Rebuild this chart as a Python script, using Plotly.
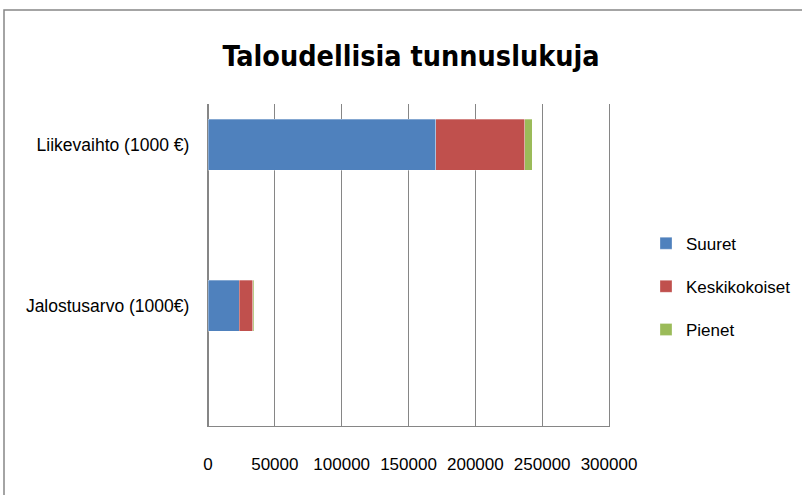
import plotly.graph_objects as go

categories = ["Jalostusarvo (1000€)", "Liikevaihto (1000 €)"]
series_names = ["Suuret", "Keskikokoiset", "Pienet"]
suuret = [23400, 170500]
keskikokoiset = [10000, 66500]
pienet = [1000, 5700]
colors = ["#4F81BD", "#C0504D", "#9BBB59"]
x_ticks = [0, 50000, 100000, 150000, 200000, 250000, 300000]

W, H = 802, 495
L, R, T, B = 208, 609, 104, 426

fig = go.Figure()
for i, (name, vals) in enumerate(zip(series_names, [suuret, keskikokoiset, pienet])):
    fig.add_trace(go.Bar(
        y=categories, x=vals, name=name, orientation="h",
        marker=dict(color=colors[i], line=dict(color="rgba(255,255,255,0.5)", width=0.6)),
        width=0.317, legendgroup=name,
    ))

font_family = "Liberation Sans, Arial, sans-serif"
title_family = "DejaVu Sans Condensed, Liberation Sans Narrow, Liberation Sans, sans-serif"
grid_c = "#868686"

fig.update_layout(
    width=W, height=H,
    margin=dict(l=L, r=W - R, t=T, b=H - B, pad=0, autoexpand=False),
    barmode="stack",
    paper_bgcolor="white", plot_bgcolor="white",
    font=dict(family=font_family, size=17, color="#000000"),
    title=dict(text="<b>Taloudellisia tunnuslukuja</b>", x=(411 - L) / (R - L), xref="paper",
               xanchor="center", y=1 - 56 / H, yref="container", yanchor="middle",
               font=dict(family=title_family, size=28.5, color="#000000")),
    xaxis=dict(range=[0, 300000], tickvals=x_ticks, ticktext=[str(v) for v in x_ticks],
               showgrid=True, gridcolor=grid_c, gridwidth=1.4,
               zeroline=True, zerolinecolor=grid_c, zerolinewidth=1.4,
               showline=True, linecolor=grid_c, linewidth=1.4,
               ticks="", ticklabelstandoff=22, tickfont=dict(size=17), automargin=False),
    yaxis=dict(type="category", categoryorder="array", categoryarray=categories,
               range=[-0.748, 1.252], showgrid=False, zeroline=False,
               showline=True, mirror=True, linecolor=grid_c, linewidth=1.4,
               ticks="", ticklabelstandoff=14, tickfont=dict(size=17.5), automargin=False),
    legend=dict(x=(646 - L) / (R - L), xanchor="left", y=(B - 245) / (B - T) + 0.06,
                yanchor="top", tracegroupgap=18, itemwidth=30,
                font=dict(size=17), bgcolor="rgba(0,0,0,0)"),
    shapes=[dict(type="rect", xref="paper", yref="paper",
                 x0=(4 - L) / (R - L), x1=(830 - L) / (R - L),
                 y0=(B - 520) / (B - T), y1=(B - 10) / (B - T),
                 line=dict(color=grid_c, width=1.5), fillcolor="rgba(0,0,0,0)", layer="below")],
)

fig.write_html("out.html", config={"displayModeBar": False},
               post_script="document.body.style.margin='0';")
